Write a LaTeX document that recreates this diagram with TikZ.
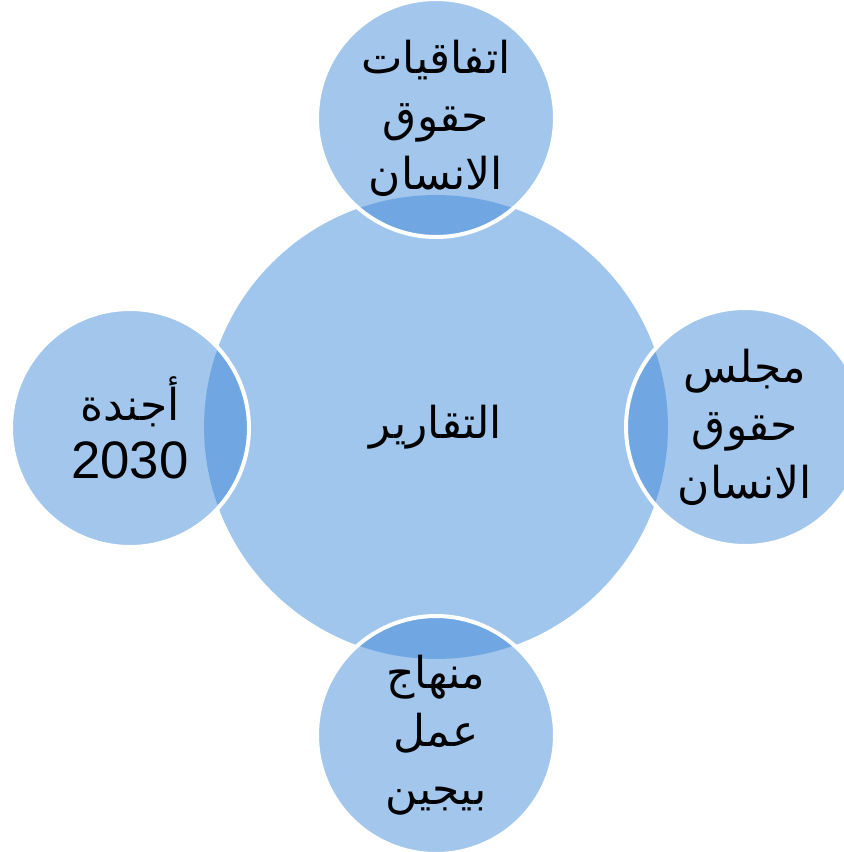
\documentclass[tikz,border=0pt]{standalone}
\usepackage{fontspec}
\setmainfont{Liberation Sans}
\newfontfamily\arabicfont[Script=Arabic]{DejaVu Sans}
\TeXXeTstate=1
\usetikzlibrary{positioning}
\definecolor{hubblue}{RGB}{160,198,237}
\definecolor{satblue}{RGB}{60,135,215}

\begin{document}
\begin{tikzpicture}[x=0.02cm, y=-0.02cm,
    hub/.style={circle, fill=hubblue, minimum size=9.28cm, inner sep=0pt, align=center,
        font=\arabicfont\fontsize{25}{33}\selectfont},
    sat/.style={circle, fill=satblue, fill opacity=0.48, text opacity=1, draw=white,
        line width=0.08cm, minimum size=4.76cm, inner sep=0pt, align=center,
        font=\arabicfont\fontsize{25}{33}\selectfont}]
        \useasboundingbox (0,0) rectangle (844,852);

        \node[hub] at (436,427) (reports) {\beginR التقارير\endR};

        \node[sat] at (436,118) (treaties) {\beginR اتفاقيات\endR\\ \beginR حقوق\endR\\ \beginR الانسان\endR};
        \node[sat] at (745,427) (council) {\beginR مجلس\endR\\ \beginR حقوق\endR\\ \beginR الانسان\endR};
        \node[sat] at (436,735) (beijing) {\beginR منهاج\endR\\ \beginR عمل\endR\\ \beginR بيجين\endR};
        \node[sat] at (130,428) (agenda) {\beginR أجندة\endR\\ {\rmfamily\fontsize{30}{33}\selectfont 2030}};
    \end{tikzpicture}
\end{document}
